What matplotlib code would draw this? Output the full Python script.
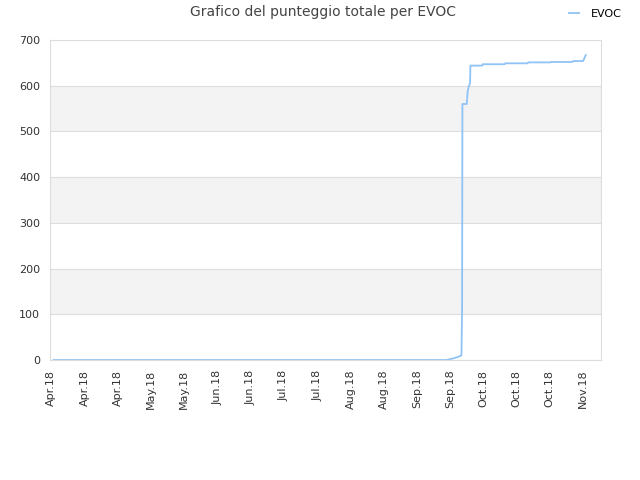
import matplotlib
matplotlib.use("Agg")
import matplotlib.pyplot as plt

# tick labels (evenly spaced categories)
tick_labels = ["Apr.18", "Apr.18", "Apr.18", "May.18", "May.18", "Jun.18",
               "Jun.18", "Jul.18", "Jul.18", "Aug.18", "Aug.18", "Sep.18",
               "Sep.18", "Oct.18", "Oct.18", "Oct.18", "Nov.18"]

# cumulative score, x in tick-index units
x_vals = [0.07, 11.9, 12.0, 12.12, 12.24, 12.34, 12.36, 12.37, 12.5, 12.53,
          12.56, 12.6, 12.61, 12.97, 12.98, 13.64, 13.66, 14.33, 14.35, 15.02,
          15.04, 15.68, 15.7, 16.0, 16.04, 16.08]
y_vals = [0, 0, 2, 4, 7, 10, 110, 560, 560, 589,
          598, 606, 644, 644, 647, 647, 649, 649, 651, 651,
          652, 652, 654, 654, 660, 667]

fig = plt.figure(figsize=(6.4, 4.8), dpi=100)
ax = fig.add_axes([50 / 640, 120 / 480, 551 / 640, 320 / 480])

ax.plot(x_vals, y_vals, color="#90c3f5", lw=1.3, label="EVOC")

ax.set_xlim(-0.04, 16.54)
ax.set_ylim(0, 700)

# alternating bands
for lo in (100, 300, 500):
    ax.axhspan(lo, lo + 100, color="#f3f3f3", zorder=0, lw=0)
ax.set_yticks(range(0, 701, 100))
ax.grid(axis="y", color="#dddddd", lw=0.8)
ax.set_axisbelow(True)

ax.set_xticks(range(len(tick_labels)))
ax.set_xticklabels(tick_labels, rotation=90, fontsize=8, color="#333333")
ax.tick_params(axis="y", labelsize=8, colors="#333333")
ax.tick_params(length=0, pad=7)
for s in ax.spines.values():
    s.set_color("#dddddd")

fig.suptitle("Grafico del punteggio totale per EVOC", x=0.505, y=0.99,
             fontsize=10, color="#444444")
ax.legend(loc="upper right", bbox_to_anchor=(0.978, 0.99),
          bbox_transform=fig.transFigure, frameon=False,
          fontsize=8, handlelength=0.9, borderaxespad=0, handletextpad=1.0)

fig.savefig("out.png", dpi=100)
